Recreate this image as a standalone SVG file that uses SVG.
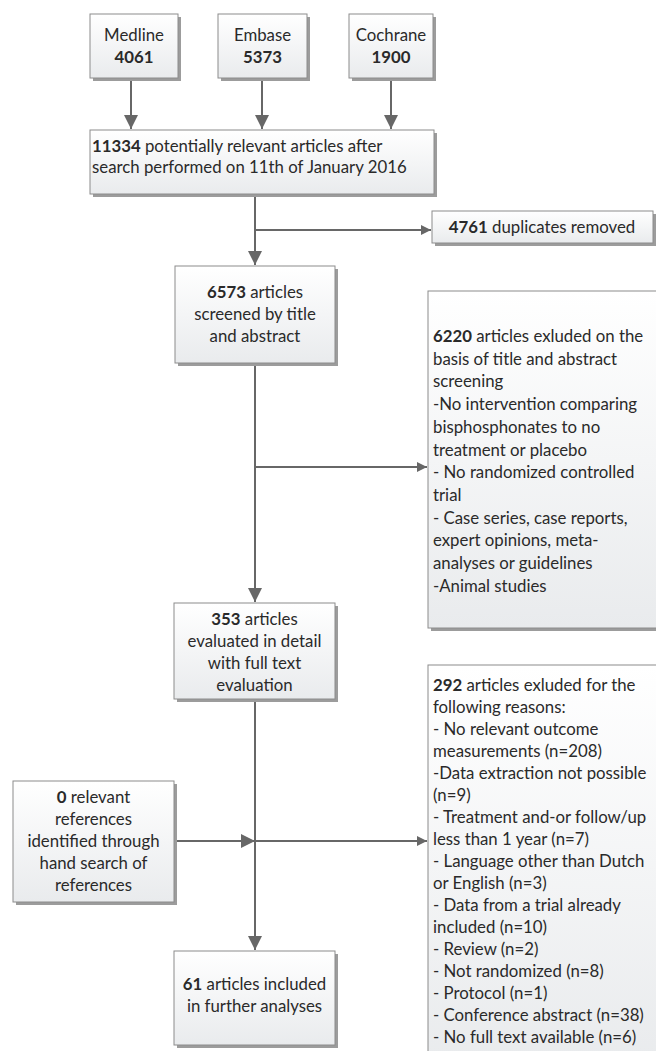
<svg xmlns="http://www.w3.org/2000/svg" width="656" height="1051" viewBox="0 0 656 1051">
<defs>
<linearGradient id="g" x1="0" y1="0" x2="0" y2="1">
<stop offset="0" stop-color="#ffffff"/>
<stop offset="1" stop-color="#e9ebed"/>
</linearGradient>
<marker id="ah" markerUnits="userSpaceOnUse" markerWidth="16" markerHeight="16" refX="14" refY="7" orient="auto">
<path d="M0,0 L14,7 L0,14 z" fill="#676767"/>
</marker>
<marker id="ahs" markerUnits="userSpaceOnUse" markerWidth="12" markerHeight="12" refX="10" refY="5" orient="auto">
<path d="M0,0 L10,5 L0,10 z" fill="#676767"/>
</marker>
</defs>
<style>
.box{fill:url(#g);stroke:#8c8c8c;stroke-width:1}
.sh{fill:#9c9c9c}
.t{font-family:Lato,"Liberation Sans",sans-serif;font-size:16.8px;fill:#2a2a2a}
.c{text-anchor:middle}
.b{font-weight:bold}
.ln{stroke:#676767;stroke-width:2;fill:none}
</style>
<g id="connectors">
<line class="ln" x1="131" y1="79" x2="131" y2="129" marker-end="url(#ah)"/>
<line class="ln" x1="262" y1="79" x2="262" y2="129" marker-end="url(#ah)"/>
<line class="ln" x1="391" y1="79" x2="391" y2="129" marker-end="url(#ah)"/>
<line class="ln" x1="255" y1="195" x2="255" y2="265" marker-end="url(#ah)"/>
<line class="ln" x1="255" y1="230" x2="431" y2="230" marker-end="url(#ahs)"/>
<line class="ln" x1="255" y1="364" x2="255" y2="602" marker-end="url(#ah)"/>
<line class="ln" x1="255" y1="467" x2="427" y2="467" marker-end="url(#ahs)"/>
<line class="ln" x1="255" y1="700" x2="255" y2="950" marker-end="url(#ah)"/>
<line class="ln" x1="175" y1="841" x2="255" y2="841" marker-end="url(#ah)"/>
<line class="ln" x1="255" y1="841" x2="427" y2="841" marker-end="url(#ahs)"/>
</g>
<g id="medline">
<rect class="sh" x="93" y="17" width="88" height="64"/>
<rect class="box" x="90" y="14" width="88" height="64"/>
<text class="t c" x="134" y="41">Medline</text>
<text class="t c b" x="134" y="63">4061</text>
</g>
<g id="embase">
<rect class="sh" x="221" y="17" width="89" height="64"/>
<rect class="box" x="218" y="14" width="89" height="64"/>
<text class="t c" x="262.5" y="41">Embase</text>
<text class="t c b" x="262.5" y="63">5373</text>
</g>
<g id="cochrane">
<rect class="sh" x="352" y="17" width="84" height="64"/>
<rect class="box" x="349" y="14" width="84" height="64"/>
<text class="t c" x="391" y="41">Cochrane</text>
<text class="t c b" x="391" y="63">1900</text>
</g>
<g id="search">
<rect class="sh" x="93" y="133" width="344" height="64"/>
<rect class="box" x="90" y="130" width="344" height="64"/>
<text class="t" x="92" y="152"><tspan class="b">11334</tspan> potentially relevant articles after</text>
<text class="t" x="92" y="173">search performed on 11th of January 2016</text>
</g>
<g id="duplicates">
<rect class="sh" x="435" y="214" width="221" height="32"/>
<rect class="box" x="432" y="211" width="221" height="32"/>
<text class="t c" x="542" y="233"><tspan class="b">4761</tspan> duplicates removed</text>
</g>
<g id="screened">
<rect class="sh" x="178" y="269" width="160" height="97"/>
<rect class="box" x="175" y="266" width="160" height="97"/>
<text class="t c" x="255" y="298"><tspan class="b">6573</tspan> articles</text>
<text class="t c" x="255" y="320">screened by title</text>
<text class="t c" x="255" y="342">and abstract</text>
</g>
<g id="excluded1">
<rect class="sh" x="431" y="294" width="240" height="337"/>
<rect class="box" x="428" y="291" width="240" height="337"/>
<text class="t" x="433" y="342"><tspan class="b">6220</tspan> articles exluded on the</text>
<text class="t" x="433" y="364.7">basis of title and abstract</text>
<text class="t" x="433" y="387.4">screening</text>
<text class="t" x="433" y="410.1">-No intervention comparing</text>
<text class="t" x="433" y="432.8">bisphosphonates to no</text>
<text class="t" x="433" y="455.5">treatment or placebo</text>
<text class="t" x="433" y="478.2">- No randomized controlled</text>
<text class="t" x="433" y="500.9">trial</text>
<text class="t" x="433" y="523.6">- Case series, case reports,</text>
<text class="t" x="433" y="546.3">expert opinions, meta-</text>
<text class="t" x="433" y="569">analyses or guidelines</text>
<text class="t" x="433" y="591.7">-Animal studies</text>
</g>
<g id="fulltext">
<rect class="sh" x="177" y="606" width="161" height="96"/>
<rect class="box" x="174" y="603" width="161" height="96"/>
<text class="t c" x="254.5" y="625"><tspan class="b">353</tspan> articles</text>
<text class="t c" x="254.5" y="647">evaluated in detail</text>
<text class="t c" x="254.5" y="669">with full text</text>
<text class="t c" x="254.5" y="691">evaluation</text>
</g>
<g id="handsearch">
<rect class="sh" x="16" y="784" width="161" height="121"/>
<rect class="box" x="13" y="781" width="161" height="121"/>
<text class="t c" x="93.5" y="803"><tspan class="b">0</tspan> relevant</text>
<text class="t c" x="93.5" y="825">references</text>
<text class="t c" x="93.5" y="847">identified through</text>
<text class="t c" x="93.5" y="869">hand search of</text>
<text class="t c" x="93.5" y="891">references</text>
</g>
<g id="excluded2">
<rect class="sh" x="431" y="668" width="240" height="400"/>
<rect class="box" x="428" y="665" width="240" height="400"/>
<text class="t" x="433" y="691"><tspan class="b">292</tspan> articles exluded for the</text>
<text class="t" x="433" y="713">following reasons:</text>
<text class="t" x="433" y="735">- No relevant outcome</text>
<text class="t" x="433" y="757">measurements (n=208)</text>
<text class="t" x="433" y="779">-Data extraction not possible</text>
<text class="t" x="433" y="801">(n=9)</text>
<text class="t" x="433" y="823">- Treatment and-or follow/up</text>
<text class="t" x="433" y="845">less than 1 year (n=7)</text>
<text class="t" x="433" y="867">- Language other than Dutch</text>
<text class="t" x="433" y="889">or English (n=3)</text>
<text class="t" x="433" y="911">- Data from a trial already</text>
<text class="t" x="433" y="933">included (n=10)</text>
<text class="t" x="433" y="955">- Review (n=2)</text>
<text class="t" x="433" y="977">- Not randomized (n=8)</text>
<text class="t" x="433" y="999">- Protocol (n=1)</text>
<text class="t" x="433" y="1021">- Conference abstract (n=38)</text>
<text class="t" x="433" y="1043">- No full text available (n=6)</text>
</g>
<g id="included">
<rect class="sh" x="177" y="954" width="161" height="94"/>
<rect class="box" x="174" y="951" width="161" height="94"/>
<text class="t c" x="254.5" y="990"><tspan class="b">61</tspan> articles included</text>
<text class="t c" x="254.5" y="1012">in further analyses</text>
</g>
</svg>
